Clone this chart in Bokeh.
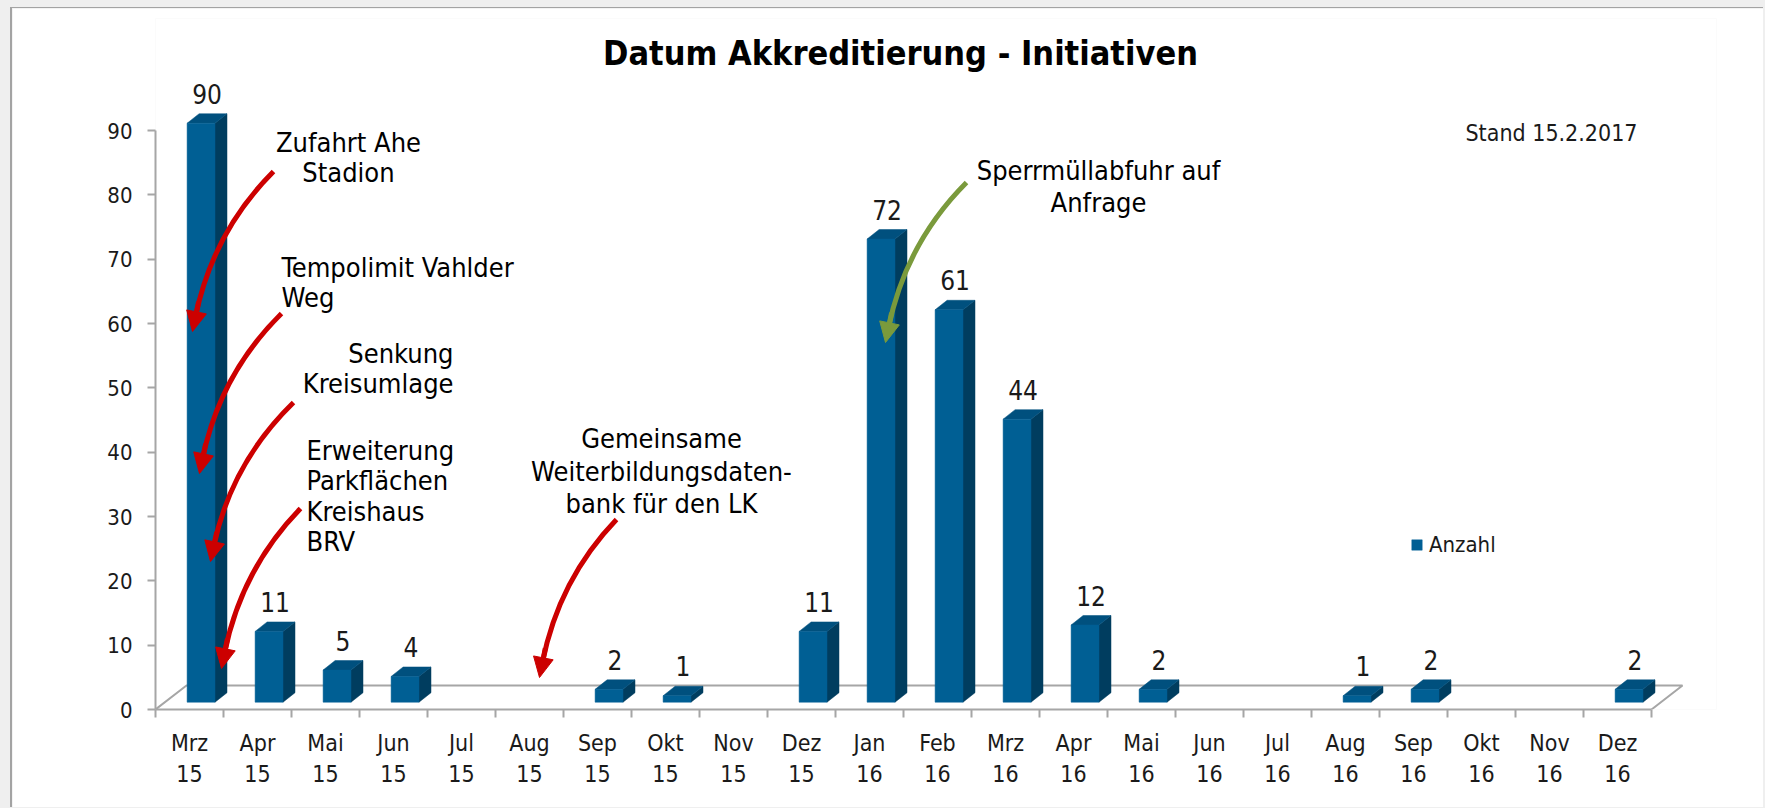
from bokeh.plotting import figure
from bokeh.models import Range1d, FixedTicker, Legend, LegendItem, Arrow, NormalHead
from bokeh.core.properties import value
from bokeh.embed import file_html
from bokeh.resources import INLINE

# ---------------- data ----------------
months = ["Mrz", "Apr", "Mai", "Jun", "Jul", "Aug", "Sep", "Okt", "Nov", "Dez",
          "Jan", "Feb", "Mrz", "Apr", "Mai", "Jun", "Jul", "Aug", "Sep", "Okt", "Nov", "Dez"]
years = ["15"] * 10 + ["16"] * 12
counts = [90, 11, 5, 4, 0, 0, 2, 1, 0, 11, 72, 61, 44, 12, 2, 0, 0, 1, 2, 0, 0, 2]
series_name = "Anzahl"
y_ticks = [0, 10, 20, 30, 40, 50, 60, 70, 80, 90]
title_text = "Datum Akkreditierung - Initiativen"
stand_text = "Stand 15.2.2017"

# annotation texts (lines, alignment, anchor-x px, line-centre y px)
notes = [
    (["Zufahrt Ahe", "Stadion"], "center", 348, [142, 172]),
    (["Tempolimit Vahlder", "Weg"], "left", 281, [267, 297]),
    (["Senkung", "Kreisumlage"], "right", 453, [353, 383]),
    (["Erweiterung", "Parkflächen", "Kreishaus", "BRV"], "left", 306, [450, 480, 511, 541]),
    (["Gemeinsame", "Weiterbildungsdaten-", "bank für den LK"], "center", 661, [438, 471, 503]),
    (["Sperrmüllabfuhr auf", "Anfrage"], "center", 1098, [170, 202]),
]
RED = "#cc0000"
GREEN = "#7a9a3c"
arrows = [
    ((273, 171), (192, 331), RED),
    ((281, 313), (199, 473), RED),
    ((293, 402), (210, 561), RED),
    ((300, 508), (221, 668), RED),
    ((616, 519), (539, 677), RED),
    ((966, 182), (885, 342), GREEN),
]

# ---------------- layout ----------------
FONT = "DejaVu Sans Condensed"
OFF_X, OFF_Y = 12, 8          # where the white panel starts on the page
W, H = 1753, 800
X0_PX, Y0_PX = 155, 709       # page pixel of the axes origin
CAT_PX = 68.0                 # pixels per category
UNIT_PX = 6.433               # pixels per count unit


def dx(xp):
    return (xp - X0_PX) / CAT_PX - 0.5


def dy(yp):
    return (Y0_PX - yp) / UNIT_PX


left_b = X0_PX - OFF_X
bottom_b = H - (Y0_PX - OFF_Y)
top_b = 10
right_b = 49
x_end = -0.5 + (W - left_b - right_b) / CAT_PX
y_end = (H - top_b - bottom_b) / UNIT_PX

p = figure(width=W, height=H, x_range=Range1d(-0.5, x_end), y_range=Range1d(0, y_end),
           output_backend="svg", toolbar_location=None,
           min_border_left=left_b, min_border_right=right_b,
           min_border_top=top_b, min_border_bottom=bottom_b,
           background_fill_color="white", border_fill_color="white",
           outline_line_color=None)
p.styles = {"margin-left": f"{OFF_X - 2}px", "margin-top": f"{OFF_Y - 1}px",
            "border-left": "2px solid #a3a3a3", "border-top": "1px solid #a3a3a3"}
p.grid.visible = False

AX = "#a6a6a6"
TXT = "#1a1a1a"

xa = p.xaxis[0]
n = len(counts)
xa.ticker = FixedTicker(ticks=list(range(n)), minor_ticks=[i - 0.5 for i in range(n + 1)])
xa.major_label_overrides = {i: f"{m}\n{y}" for i, (m, y) in enumerate(zip(months, years))}
xa.bounds = (-0.5, n - 0.5)
xa.axis_line_color = AX
xa.axis_line_width = 2
xa.major_tick_out = 0
xa.major_tick_in = 0
xa.minor_tick_out = 8
xa.minor_tick_in = 0
xa.minor_tick_line_color = AX
xa.minor_tick_line_width = 2
xa.major_label_text_font = FONT
xa.major_label_text_font_size = "23px"
xa.major_label_text_color = TXT
xa.major_label_standoff = 12

ya = p.yaxis[0]
ya.ticker = FixedTicker(ticks=y_ticks)
ya.bounds = (0, max(y_ticks))
ya.axis_line_color = AX
ya.axis_line_width = 2
ya.major_tick_out = 8
ya.major_tick_in = 0
ya.major_tick_line_color = AX
ya.major_tick_line_width = 2
ya.minor_tick_out = 0
ya.minor_tick_in = 0
ya.major_label_text_font = FONT
ya.major_label_text_font_size = "22px"
ya.major_label_text_color = TXT
ya.major_label_standoff = 15

# 3D floor
fdx = 31 / CAT_PX
fdy = 24 / UNIT_PX
p.line(x=[-0.5, -0.5 + fdx, n - 0.5 + fdx, n - 0.5], y=[0, fdy, fdy, 0],
       line_color=AX, line_width=2)

# bars
FRONT = "#005f94"
SIDE = "#003d5f"
TOP = "#00507e"
BL, BR = -0.035, 0.375
DX = 12 / CAT_PX
DY = 9.5 / UNIT_PX
BASE = 7.3 / UNIT_PX
idx = [i for i, c in enumerate(counts) if c > 0]
vals = [counts[i] for i in idx]
tops = [v + BASE for v in vals]

p.patches(xs=[[i + BR, i + BR + DX, i + BR + DX, i + BR] for i in idx],
          ys=[[BASE, BASE + DY, t + DY, t] for t in tops],
          fill_color=SIDE, line_color=SIDE, line_width=0.5)
p.patches(xs=[[i + BL, i + BL + DX, i + BR + DX, i + BR] for i in idx],
          ys=[[t, t + DY, t + DY, t] for t in tops],
          fill_color=TOP, line_color=TOP, line_width=0.5)
front = p.quad(left=[i + BL for i in idx], right=[i + BR for i in idx],
               bottom=BASE, top=tops, fill_color=FRONT, line_color=FRONT, line_width=0.5)

LABEL_GAP = 20 / UNIT_PX
p.text(x=[i + (BL + BR + DX) / 2 for i in idx], y=[t + DY + LABEL_GAP for t in tops],
       text=[str(v) for v in vals], text_align="center", text_baseline="middle",
       text_font=value(FONT), text_font_size="26px", text_color=TXT)

# legend
legend = Legend(items=[LegendItem(label=series_name, renderers=[front])],
                location=(1410 - X0_PX, Y0_PX - 544 - 13),
                glyph_width=13, glyph_height=13, label_standoff=6,
                padding=0, margin=0, border_line_color=None, background_fill_alpha=0,
                label_text_font=FONT, label_text_font_size="22px", label_text_color=TXT)
p.add_layout(legend)

# title and stand text
p.text(x=[dx(900)], y=[dy(52)], text=[title_text], text_align="center", text_baseline="middle",
       text_font=value(FONT), text_font_style="bold", text_font_size="34px", text_color="#000000")
p.text(x=[dx(1637)], y=[dy(132)], text=[stand_text], text_align="right", text_baseline="middle",
       text_font=value(FONT), text_font_size="23px", text_color=TXT)

# annotation texts
for lines, align, ax_px, ys_px in notes:
    p.text(x=[dx(ax_px)] * len(lines), y=[dy(v) for v in ys_px], text=lines,
           text_align=align, text_baseline="middle",
           text_font=value(FONT), text_font_size="27px", text_color="#000000")

# curved arrows
for (sx, sy), (ex, ey), col in arrows:
    cx = ex + 0.25 * (sx - ex)
    cy = sy + 0.38 * (ey - sy)
    bx = ex - 0.15 * (ex - cx)
    by = ey - 0.15 * (ey - cy)
    p.quadratic(x0=[dx(sx)], y0=[dy(sy)], x1=[dx(bx)], y1=[dy(by)], cx=[dx(cx)], cy=[dy(cy)],
                line_color=col, line_width=5)
    hx = ex - 0.3 * (ex - cx)
    hy = ey - 0.3 * (ey - cy)
    p.add_layout(Arrow(x_start=dx(hx), y_start=dy(hy), x_end=dx(ex), y_end=dy(ey),
                       line_color=col, line_width=5,
                       end=NormalHead(size=20, fill_color=col, line_color=col, line_width=1)))

html = file_html(p, INLINE, title=title_text)
html = html.replace("</head>", "<style>body{background-color:#efefef;}</style></head>", 1)
open("out.html", "w").write(html)
